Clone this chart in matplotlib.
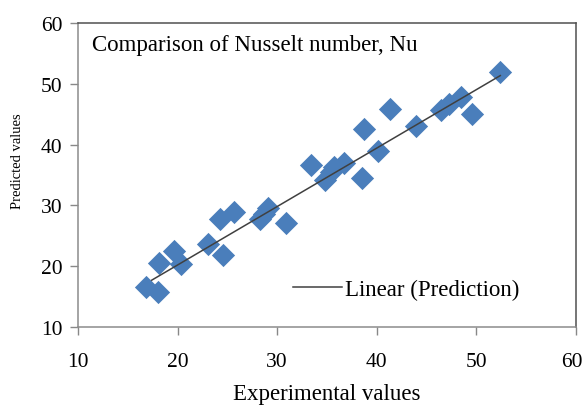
import matplotlib
matplotlib.use("Agg")
import matplotlib.pyplot as plt
from matplotlib.transforms import ScaledTranslation

plt.rcParams['font.family'] = ['Liberation Serif', 'DejaVu Serif']

experimental = [16.8, 18.0, 18.1, 19.6, 20.3, 23.1, 24.3, 24.6, 25.7, 28.3, 28.7, 29.1,
                30.9, 33.4, 34.8, 35.4, 35.7, 36.7, 38.5, 38.7, 40.1, 41.3, 43.9,
                46.4, 47.2, 48.5, 49.6, 52.4]
predicted = [16.6, 15.8, 20.5, 22.5, 20.3, 23.6, 27.7, 21.9, 28.9, 27.7, 28.6, 29.6,
             27.1, 36.7, 34.1, 35.5, 36.3, 36.9, 34.5, 42.6, 39.0, 45.9, 43.0,
             45.7, 46.7, 47.8, 45.0, 52.0]

# linear trendline ("Linear (Prediction)") end points
trend_x = [17.4, 52.4]
trend_y = [17.7, 51.35]

x_ticks = [10, 20, 30, 40, 50, 60]
y_ticks = [10, 20, 30, 40, 50, 60]

fig = plt.figure(figsize=(5.85, 4.06), dpi=100)
ax = fig.add_axes([0.1333, 0.1921, 0.8513, 0.7488])

ax.scatter(experimental, predicted, marker='D', s=140, color='#4A7EBB', zorder=2, linewidths=0)
ax.plot(trend_x, trend_y, color='#404040', lw=1.1, zorder=3, label='Linear (Prediction)')

ax.set_xlim(10, 60)
ax.set_ylim(10, 60)
ax.set_xticks(x_ticks)
ax.set_yticks(y_ticks)
ax.tick_params(axis='x', direction='out', length=6, width=1, colors='#888888',
               labelsize=15.5, labelcolor='black', pad=12)
ax.tick_params(axis='y', direction='out', length=6, width=1, colors='#888888',
               labelsize=15.5, labelcolor='black', pad=5)
ax.spines['left'].set_color('#8c8c8c')
ax.spines['bottom'].set_color('#8c8c8c')
ax.spines['top'].set_color('#505050')
ax.spines['right'].set_color('#505050')
for s in ax.spines.values():
    s.set_linewidth(1.1)

# keep the last x tick label inside the figure, as in the reference
last = ax.get_xticklabels()[-1]
last.set_transform(last.get_transform() + ScaledTranslation(-4 / 100, 0, fig.dpi_scale_trans))

ax.set_xlabel('Experimental values', fontsize=16.5)
ax.xaxis.set_label_coords(0.5, -0.185)
ax.set_ylabel('Predicted values', fontsize=10.5)
ax.yaxis.set_label_coords(-0.108, 0.55)

ax.text(0.028, 0.928, 'Comparison of Nusselt number, Nu', transform=ax.transAxes,
        fontsize=16.5, va='center', ha='left')
ax.legend(loc='center left', bbox_to_anchor=(0.432, 0.125), frameon=False, fontsize=16.5,
          handlelength=2.15, handletextpad=0.1, borderpad=0, borderaxespad=0)

fig.savefig('out.png', dpi=100)
